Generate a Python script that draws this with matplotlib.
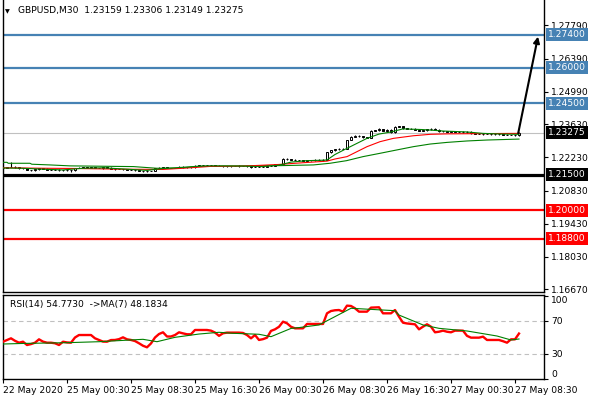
import numpy as np
import matplotlib
matplotlib.use('Agg')
import matplotlib.pyplot as plt
import matplotlib.transforms as mtransforms

plt.rcParams['font.family'] = ['DejaVu Sans']

# ---------------- data ----------------
symbol_title = "GBPUSD,M30  1.23159 1.23306 1.23149 1.23275"
rsi_title = "RSI(14) 54.7730  ->MA(7) 48.1834"

first_open = 1.2176
closes = [
    1.2180, 1.2182, 1.2184, 1.2181, 1.2177, 1.2176, 1.2170, 1.2168, 1.2172, 1.2176,
    1.2175, 1.2171, 1.2170, 1.2171, 1.2168, 1.2169, 1.2170, 1.2169, 1.2177, 1.2180,
    1.2181, 1.2180, 1.2181, 1.2178, 1.2177, 1.2181, 1.2180, 1.2174, 1.2173, 1.2173,
    1.2172, 1.2171, 1.2170, 1.2169, 1.2166, 1.2165, 1.2166, 1.2166, 1.2176, 1.2180,
    1.2181, 1.2179, 1.2178, 1.2178, 1.2184, 1.2182, 1.2181, 1.2181, 1.2188, 1.2189,
    1.2190, 1.2189, 1.2190, 1.2188, 1.2186, 1.2185, 1.2186, 1.2186, 1.2187, 1.2186,
    1.2186, 1.2185, 1.2184, 1.2183, 1.2183, 1.2184, 1.2187, 1.2188, 1.2193, 1.2195,
    1.2218, 1.2214, 1.2212, 1.2211, 1.2210, 1.2209, 1.2210, 1.2211, 1.2212, 1.2211,
    1.2213, 1.2244, 1.2252, 1.2258, 1.2260, 1.2259, 1.2296, 1.2310, 1.2315, 1.2312,
    1.2308, 1.2305, 1.2335, 1.2338, 1.2342, 1.2336, 1.2339, 1.2328, 1.2352, 1.2355,
    1.2345, 1.2343, 1.2344, 1.2340, 1.2336, 1.2338, 1.2342, 1.2343, 1.2340, 1.2333,
    1.2332, 1.2331, 1.2332, 1.2330, 1.2331, 1.2329, 1.2330, 1.2324, 1.2322, 1.2323,
    1.2321, 1.2322, 1.2320, 1.2321, 1.2320, 1.2319, 1.2318, 1.2317, 1.23159, 1.23275,
]
# wick lengths in pips (0.0001)
upper_wick = [
    2, 2, 21, 2, 1, 2, 2, 1, 2, 2,
    1, 2, 1, 2, 2, 1, 2, 1, 2, 2,
    1, 2, 1, 2, 1, 2, 2, 1, 2, 1,
    2, 1, 2, 1, 2, 1, 2, 1, 2, 2,
    1, 2, 1, 2, 2, 1, 2, 1, 2, 2,
    2, 1, 2, 1, 2, 1, 2, 2, 1, 2,
    1, 2, 1, 2, 1, 2, 2, 1, 2, 2,
    2, 3, 2, 2, 1, 2, 2, 1, 2, 2,
    2, 2, 3, 2, 2, 2, 2, 2, 3, 2,
    2, 2, 3, 2, 3, 2, 2, 2, 3, 2,
    2, 2, 2, 3, 2, 2, 2, 2, 2, 2,
    1, 2, 1, 2, 1, 2, 2, 2, 2, 1,
    2, 1, 2, 1, 2, 1, 2, 1, 2, 3,
]
lower_wick = [
    2, 2, 1, 2, 2, 1, 2, 3, 2, 1,
    2, 2, 1, 2, 2, 1, 3, 6, 2, 1,
    2, 1, 2, 2, 1, 2, 1, 2, 2, 1,
    2, 1, 2, 2, 2, 3, 2, 1, 2, 1,
    2, 1, 2, 2, 1, 2, 1, 2, 1, 2,
    1, 2, 1, 2, 1, 2, 1, 2, 1, 2,
    1, 2, 6, 2, 1, 2, 1, 2, 2, 2,
    2, 2, 2, 1, 2, 2, 1, 2, 2, 1,
    2, 2, 2, 2, 2, 2, 1, 2, 2, 2,
    2, 2, 2, 2, 2, 2, 5, 2, 2, 2,
    2, 2, 2, 2, 2, 2, 2, 2, 2, 2,
    1, 2, 1, 2, 1, 2, 2, 2, 2, 2,
    2, 1, 2, 1, 2, 1, 2, 1, 2, 1,
]

# moving averages on price (anchor bar index, value)
fast_ma_idx = [0, 5, 10, 15, 20, 25, 30, 36, 40, 45, 50, 55, 60, 65, 69, 72, 76, 80, 81,
               83, 86, 88.5, 91, 94, 97, 100, 105, 110, 116, 120, 125, 129]
fast_ma_val = [1.2178, 1.2177, 1.2173, 1.2170, 1.2177, 1.2179, 1.2174, 1.2168, 1.2176,
               1.2181, 1.2187, 1.2187, 1.2186, 1.2184, 1.2190, 1.2203, 1.2209, 1.2211,
               1.2212, 1.2235, 1.2261, 1.2282, 1.2303, 1.2321, 1.2330, 1.2343, 1.2340,
               1.2334, 1.2330, 1.2324, 1.2321, 1.2320]
mid_ma_idx = [0, 10, 18, 30, 40, 45, 52, 60, 69, 73, 81, 83, 86, 88.5, 91, 94.25, 97.6,
              102.6, 106.75, 111, 120, 129]
mid_ma_val = [1.2179, 1.2177, 1.2176, 1.2173, 1.2172, 1.2177, 1.2185, 1.2186, 1.2193,
              1.2198, 1.2207, 1.2216, 1.2226, 1.2247, 1.2268, 1.2289, 1.2303, 1.2314,
              1.2320, 1.2322, 1.2323, 1.2324]
slow_ma_idx = [0, 1, 1.3, 6.75, 7.2, 11.75, 16.75, 32.6, 38.4, 43.4, 48.4, 64.25, 69.25,
               77.6, 81.75, 85.9, 90, 94.25, 98.4, 102.6, 106.75, 111, 116, 121, 129]
slow_ma_val = [1.2202, 1.2202, 1.2198, 1.2198, 1.2194, 1.2191, 1.2187, 1.2184, 1.2177,
               1.2177, 1.2184, 1.2188, 1.2188, 1.2191, 1.2198, 1.2209, 1.2226, 1.2240,
               1.2254, 1.2268, 1.2279, 1.2286, 1.2292, 1.2296, 1.2300]

# RSI(14) per bar
rsi = [
    44.9, 47.0, 49.0, 46.0, 43.7, 44.9, 40.9, 42.0, 43.7, 47.8,
    45.0, 43.7, 43.7, 43.0, 40.9, 44.9, 44.0, 43.7, 50.0, 53.0,
    53.0, 53.0, 53.0, 49.0, 47.0, 45.0, 44.9, 46.9, 47.0, 48.0,
    50.2, 47.8, 47.0, 45.7, 43.0, 40.0, 38.1, 42.8, 50.0, 54.2,
    56.3, 51.2, 51.2, 53.0, 56.3, 55.0, 53.9, 53.9, 59.1, 59.1,
    59.1, 59.1, 58.3, 56.0, 52.0, 55.1, 55.9, 55.9, 55.9, 55.9,
    55.5, 53.0, 49.0, 53.0, 47.0, 48.0, 49.8, 58.0, 59.9, 63.0,
    69.2, 67.2, 63.0, 61.1, 61.1, 61.1, 66.4, 66.4, 66.4, 66.4,
    66.4, 79.3, 82.1, 83.0, 83.3, 81.3, 88.6, 88.2, 85.4, 81.3,
    81.3, 81.3, 86.2, 86.4, 86.6, 79.3, 79.3, 79.3, 83.3, 75.2,
    67.9, 67.0, 66.5, 66.0, 59.9, 63.1, 66.0, 63.1, 56.3, 57.0,
    58.3, 57.0, 56.3, 58.3, 58.3, 58.3, 52.0, 49.8, 49.8, 49.8,
    51.0, 47.0, 47.0, 47.0, 47.0, 45.5, 43.7, 47.8, 47.8, 54.77,
]
# MA(7) of RSI (anchor bar index, value)
rsi_ma_idx = [0, 5, 16, 24, 35, 38.5, 43, 49, 54, 57.5, 64, 67, 70, 72, 74, 79, 87,
              98, 99, 105, 109, 116, 123.5, 127, 129]
rsi_ma_val = [42.1, 42.8, 43.7, 44.9, 47.8, 44.9, 50.2, 54.2, 56.3, 55.1, 53.9, 51.0,
              57.0, 61.0, 62.0, 65.2, 85.4, 82.5, 77.2, 65.2, 61.1, 57.9, 51.8, 47.0, 48.18]

# levels
blue_levels = [1.2740, 1.2600, 1.2450]
black_level = 1.2150
red_levels = [1.2000, 1.1880]
last_price = 1.23275
arrow_target = 1.2732
arrow_end_bar = 133.75

price_ticks = [1.2779, 1.2639, 1.2499, 1.2363, 1.2223, 1.2083, 1.1943, 1.1803, 1.1667]
rsi_ticks = [100, 70, 30, 0]
time_tick_idx = [0, 16, 32, 48, 64, 80, 96, 112, 128]
time_tick_labels = ["22 May 2020", "25 May 00:30", "25 May 08:30", "25 May 16:30",
                    "26 May 00:30", "26 May 08:30", "26 May 16:30", "27 May 00:30",
                    "27 May 08:30"]

# ---------------- layout ----------------
W, H = 590, 400
fig = plt.figure(figsize=(W / 100, H / 100), dpi=100)
fig.patch.set_facecolor('white')


def rect(x0, y0, x1, y1):
    return [x0 / W, 1 - y1 / H, (x1 - x0) / W, (y1 - y0) / H]


ax = fig.add_axes(rect(2.5, 0.5, 544, 292))
axr = fig.add_axes(rect(2.5, 295, 544, 379))

FS = 6.6
BLUE = '#4682B4'

closes_a = np.array(closes)
opens_a = np.r_[first_open, closes_a[:-1]]
highs_a = np.maximum(opens_a, closes_a) + np.array(upper_wick) * 1e-4
lows_a = np.minimum(opens_a, closes_a) - np.array(lower_wick) * 1e-4
idx = np.arange(len(closes_a))

# candles
ax.vlines(idx, lows_a, highs_a, color='black', lw=0.8, zorder=3)
bull = closes_a >= opens_a
body_bottom = np.minimum(opens_a, closes_a)
body_h = np.maximum(np.abs(closes_a - opens_a), 0.00002)
ax.bar(idx[bull], body_h[bull], bottom=body_bottom[bull], width=0.7,
       color='white', edgecolor='black', linewidth=0.7, zorder=4)
ax.bar(idx[~bull], body_h[~bull], bottom=body_bottom[~bull], width=0.7,
       color='black', edgecolor='black', linewidth=0.7, zorder=4)

# MAs
ax.plot(slow_ma_idx, slow_ma_val, color='#008000', lw=0.8, zorder=5)
ax.plot(mid_ma_idx, mid_ma_val, color='#FF0000', lw=0.8, zorder=5)
ax.plot(fast_ma_idx, fast_ma_val, color='#008000', lw=0.8, zorder=5)

# level lines
for lv in blue_levels:
    ax.axhline(lv, color=BLUE, lw=1.6, zorder=2)
ax.axhline(black_level, color='black', lw=2.3, zorder=2)
for lv in red_levels:
    ax.axhline(lv, color='#FF0000', lw=1.6, zorder=2)
ax.axhline(last_price, color='#C0C0C0', lw=0.8, zorder=1)

# arrow
ax.annotate('', xy=(arrow_end_bar, arrow_target), xytext=(idx[-1] - 0.2, closes_a[-1] - 0.0003),
            arrowprops=dict(arrowstyle='-|>', color='black', lw=1.5,
                            mutation_scale=9, shrinkA=0, shrinkB=0), zorder=6)

ax.set_xlim(-0.125, 135.25)
ax.set_ylim(1.16553, 1.28842)
ax.set_xticks([])
ax.yaxis.tick_right()
ax.set_yticks(price_ticks)
ax.set_yticklabels([f"{t:.5f}" for t in price_ticks])
ax.tick_params(axis='y', direction='out', length=3, width=0.8, pad=2,
               labelsize=FS, colors='black')
ax.spines['top'].set_visible(False)
for s in ['left', 'right', 'bottom']:
    ax.spines[s].set_linewidth(1.0)

# price label boxes
trans = mtransforms.blended_transform_factory(ax.transAxes, ax.transData)
boxes = [(lv, BLUE) for lv in blue_levels] + [(last_price, 'black'), (black_level, 'black')] + \
        [(lv, '#FF0000') for lv in red_levels]
for lv, col in boxes:
    ax.text(1.0 + 4 / 541.5, lv, f"{lv:.5f}", transform=trans, ha='left', va='center',
            fontsize=FS, color='white', clip_on=False, zorder=10,
            bbox=dict(boxstyle='square,pad=0.22', fc=col, ec='none'))

# titles
fig.text(5 / W, 1 - 11.5 / H, "\u25BC", fontsize=4.5, va='center', ha='left')
fig.text(18 / W, 1 - 11 / H, symbol_title, fontsize=FS, va='center', ha='left')

# RSI panel
axr.plot(idx, rsi, color='#FF0000', lw=1.7, zorder=3)
axr.plot(rsi_ma_idx, rsi_ma_val, color='#008000', lw=0.8, zorder=4)
for lv in [70, 30]:
    axr.axhline(lv, color='#C0C0C0', lw=0.8, ls=(0, (4, 3)), zorder=1)
axr.set_xlim(-0.125, 135.25)
axr.set_ylim(-0.3, 101.5)
axr.yaxis.tick_right()
axr.set_yticks(rsi_ticks)
axr.set_yticklabels([str(t) for t in rsi_ticks])
axr.tick_params(axis='y', direction='out', length=3, width=0.8, pad=2, labelsize=FS)
for lab, t in zip(axr.get_yticklabels(), rsi_ticks):
    if t == 100:
        lab.set_va('top')
    elif t == 0:
        lab.set_va('bottom')
axr.set_xticks(time_tick_idx)
axr.set_xticklabels(time_tick_labels, ha='left')
axr.tick_params(axis='x', direction='out', length=3, width=0.8, pad=2, labelsize=FS)
for s in axr.spines.values():
    s.set_linewidth(1.0)
axr.text(7 / 541.5, 1 - 9 / 84, rsi_title, transform=axr.transAxes, fontsize=FS,
         va='center', ha='left')

fig.savefig('out.png', dpi=100)
